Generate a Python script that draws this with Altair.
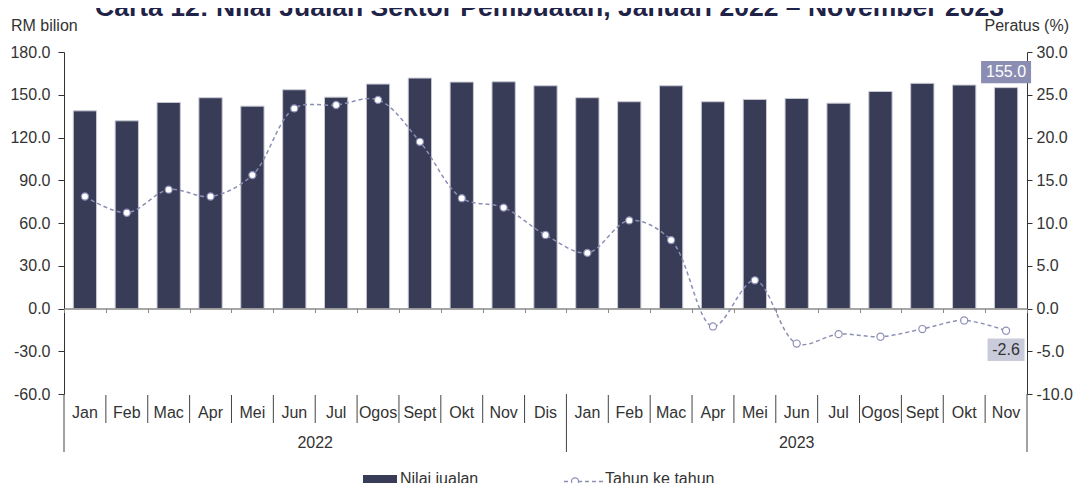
import altair as alt
import pandas as pd

# ---------------- data ----------------
title_text = "Carta 12: Nilai Jualan Sektor Pembuatan, Januari 2022 – November 2023"
left_unit = "RM bilion"
right_unit = "Peratus (%)"
years = ["2022", "2023"]
months_2022 = ["Jan", "Feb", "Mac", "Apr", "Mei", "Jun", "Jul", "Ogos", "Sept", "Okt", "Nov", "Dis"]
months_2023 = ["Jan", "Feb", "Mac", "Apr", "Mei", "Jun", "Jul", "Ogos", "Sept", "Okt", "Nov"]
sales = [138.7, 131.7, 144.6, 147.9, 142.0, 153.5, 148.3, 157.5, 161.7, 158.9, 159.1, 156.3,
         147.9, 145.1, 156.3, 145.1, 146.7, 147.4, 144.1, 152.3, 158.0, 156.8, 155.0]
yoy = [13.1, 11.2, 13.9, 13.1, 15.6, 23.4, 23.8, 24.4, 19.5, 12.9, 11.8, 8.6,
       6.5, 10.3, 8.0, -2.1, 3.3, -4.1, -3.0, -3.3, -2.4, -1.4, -2.6]
left_ticks = [-60, -30, 0, 30, 60, 90, 120, 150, 180]
right_ticks = [-10, -5, 0, 5, 10, 15, 20, 25, 30]
legend_labels = ["Nilai jualan", "Tahun ke tahun"]

# ---------------- table ----------------
rows = []
for yr, ms in zip(years, [months_2022, months_2023]):
    n = len(ms)
    for i, m in enumerate(ms):
        rows.append(dict(key=f"{yr}-{m}", month=m, year=yr, pos=i, n=n))
df = pd.DataFrame(rows)
df["sales"] = sales
df["yoy"] = yoy
df["idx"] = range(len(df))
df["year_start"] = df["pos"] == 0
df["is_last"] = df["idx"] == len(df) - 1
df["ylab_even"] = (df["pos"] == df["n"] // 2) & (df["n"] % 2 == 0)
df["ylab_odd"] = (df["pos"] == df["n"] // 2) & (df["n"] % 2 == 1)
keys = list(df["key"])

# ---------------- style ----------------
W, H = 963, 342
PAD = {"left": 56, "top": 44, "right": 46, "bottom": 96}
FONT = "Liberation Sans"
BAR = "#393c57"
LINE = "#8c8fb5"
TXT = "#333333"
YL = [left_ticks[0], left_ticks[-1]]
YR = [right_ticks[0], right_ticks[-1]]
zero_offset = -(H * (0 - YL[0]) / (YL[1] - YL[0]))
MINUS_FIX = "replace(format(datum.value, '.1f'), '\u2212', '-')"
LEG_Y = H + 85   # legend row, cut by the lower edge of the window as in the source

xscale = alt.Scale(paddingInner=0, paddingOuter=0)


def yl_scale():
    return alt.Scale(domain=YL, nice=False, zero=False)


def yr_scale():
    return alt.Scale(domain=YR, nice=False, zero=False)


def x_axis():
    return alt.Axis(orient="bottom", offset=zero_offset, labels=False, ticks=True,
                    tickBand="extent", tickSize=4, tickColor="#8a8a8a",
                    domainColor="#8a8a8a", domainWidth=1.6, title=None, grid=False,
                    zindex=1)


left_axis = alt.Axis(orient="left", values=left_ticks, labelExpr=MINUS_FIX, labelFont=FONT,
                     labelFontSize=16, labelColor=TXT, tickSize=6, tickColor="#333",
                     domainColor="#333", labelPadding=8, grid=False, title=None)
right_axis = alt.Axis(orient="right", values=right_ticks, labelExpr=MINUS_FIX, labelFont=FONT,
                      labelFontSize=16, labelColor=TXT, tickSize=5, tickColor="#333",
                      domainColor="#333", labelPadding=4, grid=False, title=None)


def X(bp=None):
    kw = dict(sort=keys, scale=xscale, axis=x_axis(), title=None)
    if bp is not None:
        kw["bandPosition"] = bp
    return alt.X("key:N", **kw)


base = alt.Chart(df).transform_calculate(
    yoy_lbl="replace(format(datum.yoy, '.1f'), '\u2212', '-')",
    sales_lbl="replace(format(datum.sales, '.1f'), '\u2212', '-')",
)

# ---------------- sales (left axis) ----------------
bars = base.mark_bar(color=BAR, stroke="#c8c9d4", strokeWidth=1,
                     width=alt.RelativeBandSize(0.556)).encode(
    x=X(),
    y=alt.Y("sales:Q", scale=yl_scale(), axis=left_axis),
)
box_a = "M-1,-0.446L1,-0.446L1,0.446L-1,0.446Z"
box155 = base.transform_filter(alt.datum.is_last).mark_point(
    shape=box_a, size=2500, filled=True, color="#8b8db3", opacity=1, yOffset=-15.5
).encode(x=X(), y=alt.Y("sales:Q", scale=yl_scale(), axis=None))
text155 = base.transform_filter(alt.datum.is_last).mark_text(
    color="white", font=FONT, fontSize=16, dy=-15.5, baseline="middle"
).encode(x=X(), y=alt.Y("sales:Q", scale=yl_scale(), axis=None), text="sales_lbl:N")

# ---------------- yoy (right axis) ----------------
line = base.mark_line(color=LINE, strokeDash=[4, 3], strokeWidth=1.5,
                      interpolate="catmull-rom").encode(
    x=X(), y=alt.Y("yoy:Q", scale=yr_scale(), axis=right_axis))
points = base.mark_circle(size=50, color="white", stroke=LINE, strokeWidth=1.2,
                          opacity=1).encode(
    x=X(), y=alt.Y("yoy:Q", scale=yr_scale(), axis=None))
box_b = "M-1,-0.613L1,-0.613L1,0.613L-1,0.613Z"
box26 = base.transform_filter(alt.datum.is_last).mark_point(
    shape=box_b, size=1369, filled=True, color="#c9cbdb", opacity=1, yOffset=19
).encode(x=X(), y=alt.Y("yoy:Q", scale=yr_scale(), axis=None))
text26 = base.transform_filter(alt.datum.is_last).mark_text(
    color=TXT, font=FONT, fontSize=16, dy=19, baseline="middle"
).encode(x=X(), y=alt.Y("yoy:Q", scale=yr_scale(), axis=None), text="yoy_lbl:N")

# ---------------- category axis below the plot ----------------
month_text = base.mark_text(font=FONT, fontSize=16, color=TXT, baseline="middle").encode(
    x=X(), y=alt.value(H + 19), text="month:N")
year_even = base.transform_filter(alt.datum.ylab_even).mark_text(
    font=FONT, fontSize=16, color=TXT, baseline="middle").encode(
    x=X(bp=0), y=alt.value(H + 49), text="year:N")
year_odd = base.transform_filter(alt.datum.ylab_odd).mark_text(
    font=FONT, fontSize=16, color=TXT, baseline="middle").encode(
    x=X(bp=0.5), y=alt.value(H + 49), text="year:N")
sep_short = base.transform_filter("!datum.year_start").mark_rule(
    color="#444", strokeWidth=1).encode(
    x=X(bp=0), y=alt.value(H + 1), y2=alt.value(H + 29))
sep_long = base.transform_filter(alt.datum.year_start).mark_rule(
    color="#444", strokeWidth=1).encode(
    x=X(bp=0), y=alt.value(H), y2=alt.value(H + 58))
sep_end = base.transform_filter(alt.datum.is_last).mark_rule(
    color="#444", strokeWidth=1).encode(
    x=X(bp=1), y=alt.value(H), y2=alt.value(H + 58))

# ---------------- titles ----------------
one = alt.Chart(pd.DataFrame({"t": [title_text], "l": [left_unit], "r": [right_unit],
                              "a": [legend_labels[0]], "b": [legend_labels[1]]}))
title = one.mark_text(font=FONT, fontSize=26.5, fontWeight="bold", color="#1f2347",
                      baseline="alphabetic", align="center").encode(
    x=alt.value(W / 2 + 4), y=alt.value(-36.5), text="t:N")
lunit = one.mark_text(font=FONT, fontSize=16, color=TXT, baseline="middle",
                      align="left").encode(x=alt.value(-53), y=alt.value(-26.5), text="l:N")
runit = one.mark_text(font=FONT, fontSize=16, color=TXT, baseline="middle",
                      align="right").encode(x=alt.value(W + 42), y=alt.value(-26.5), text="r:N")

# ---------------- legend ----------------
leg_bar = one.mark_rect(color=BAR).encode(
    x=alt.value(299), x2=alt.value(333), y=alt.value(LEG_Y - 4), y2=alt.value(LEG_Y + 10))
leg_bar_t = one.mark_text(font=FONT, fontSize=16, color=TXT, align="left",
                          baseline="middle").encode(
    x=alt.value(336), y=alt.value(LEG_Y), text="a:N")
leg_line = one.mark_rule(color=LINE, strokeDash=[4, 3], strokeWidth=1.5).encode(
    x=alt.value(500), x2=alt.value(539), y=alt.value(LEG_Y + 2.5))
leg_pt = one.mark_circle(size=50, color="white", stroke=LINE, strokeWidth=1.2,
                         opacity=1).encode(x=alt.value(511), y=alt.value(LEG_Y + 2.5))
leg_line_t = one.mark_text(font=FONT, fontSize=16, color=TXT, align="left",
                           baseline="middle").encode(
    x=alt.value(541), y=alt.value(LEG_Y), text="b:N")

chart = alt.layer(
    bars, box155, text155,
    line, points, box26, text26,
    month_text, year_even, year_odd, sep_short, sep_long, sep_end,
    title, lunit, runit,
    leg_bar, leg_bar_t, leg_line, leg_pt, leg_line_t,
).resolve_scale(y="independent").properties(
    width=W, height=H,
    padding=PAD,
    autosize=alt.AutoSizeParams(type="none"),
).configure_view(stroke=None)

chart.save("out.html", embed_options={"renderer": "svg", "actions": False})
